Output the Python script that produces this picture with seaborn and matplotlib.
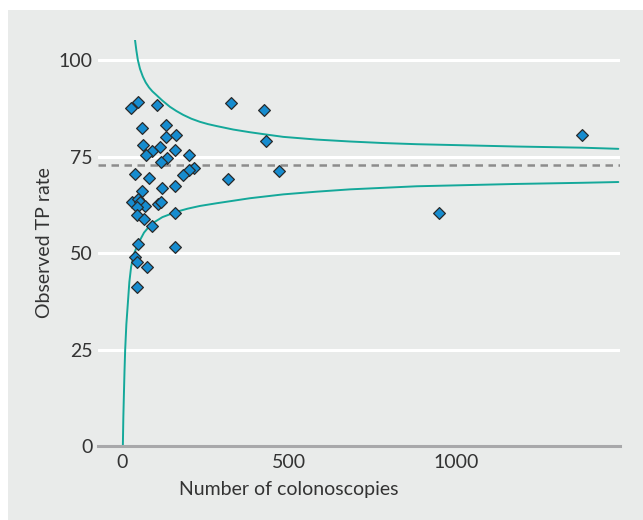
import matplotlib
matplotlib.use("Agg")
import matplotlib.pyplot as plt
import seaborn as sns
from matplotlib.patches import Rectangle

# number of colonoscopies per endoscopist and observed TP rate (%)
n_colonoscopies = [25, 47, 103, 58, 131, 130, 160, 62, 112, 159, 88, 70, 200, 135, 115,
                   216, 201, 182, 38, 80, 119, 158, 60, 29, 48, 53, 68, 44, 106, 116,
                   158, 43, 65, 88, 47, 159, 38, 44, 73, 43,
                   325, 425, 430, 316, 470, 1378, 950]
tp_rate = [87.5, 89.2, 88.3, 82.5, 83.3, 80.1, 80.5, 77.9, 77.5, 76.6, 76.5, 75.5, 75.4, 74.7, 73.7,
           72.1, 71.6, 70.2, 70.4, 69.4, 66.8, 67.4, 66.1, 63.1, 64.1, 63.3, 62.3, 61.8, 62.7, 63.1,
           60.3, 59.8, 58.7, 57.0, 52.3, 51.6, 48.9, 47.7, 46.3, 41.3,
           88.9, 87.0, 79.1, 69.1, 71.2, 80.6, 60.3]
mean_rate = 72.7

# funnel limits
upper_n = [38, 42, 46.5, 53, 61.5, 70, 80, 90, 102.6, 120, 142.5, 162, 182.4, 207, 232.5, 257, 282.6,
           332.4, 382.5, 432, 482.4, 582.6, 682.5, 782.4, 882.6, 982.5, 1180, 1378, 1487]
upper_limit = [105.2, 102.5, 100.0, 97.7, 95.7, 94.2, 92.9, 91.9, 90.9, 89.5, 87.9, 86.8, 85.8, 84.8,
               84.0, 83.4, 82.9, 82.0, 81.3, 80.7, 80.1, 79.4, 78.9, 78.5, 78.2, 78.0, 77.6, 77.3, 77.0]
lower_n = [1.5, 3, 4.5, 6.5, 8.5, 12, 16.5, 21, 26.4, 35, 46.5, 65, 86.4, 120, 162.6, 196, 232.5,
           282.6, 382.5, 482.4, 582.6, 682.5, 782.4, 882.6, 982.5, 1180, 1378, 1487]
lower_limit = [0.0, 7.5, 12.8, 19.5, 25.0, 31.5, 37.0, 42.5, 46.5, 49.8, 52.3, 55.3, 57.5, 59.3, 60.7,
               61.5, 62.2, 62.9, 64.2, 65.2, 65.9, 66.5, 66.9, 67.3, 67.5, 67.9, 68.2, 68.4]

x_ticks = [0, 500, 1000]
y_ticks = [0, 25, 50, 75, 100]

BG = '#e9ebea'
TEXT = '#333333'
TEAL = '#14a89a'
BLUE = '#168ccf'

sns.set_theme(style='white')
plt.rcParams['font.family'] = ['Lato', 'DejaVu Sans']

fig = plt.figure(figsize=(6.43, 5.2), dpi=100)
fig.patch.set_facecolor(BG)
# white margin on the left and top
fig.patches.append(Rectangle((0, 0), 8 / 643, 1, transform=fig.transFigure,
                             facecolor='white', edgecolor='none'))
fig.patches.append(Rectangle((0, 1 - 10 / 520), 1, 10 / 520, transform=fig.transFigure,
                             facecolor='white', edgecolor='none'))
ax = fig.add_axes([98 / 643, (520 - 446) / 520, 522 / 643, 406 / 520])
ax.set_facecolor(BG)

for y in y_ticks[1:]:
    ax.axhline(y, color='white', lw=2.2, zorder=1)
ax.axhline(mean_rate, color='#8c8c8c', lw=1.8, ls=(0, (3, 2.2)), zorder=2)

sns.lineplot(x=upper_n, y=upper_limit, sort=False, estimator=None, color=TEAL, lw=1.4, ax=ax, zorder=3)
sns.lineplot(x=lower_n, y=lower_limit, sort=False, estimator=None, color=TEAL, lw=1.4, ax=ax, zorder=3)
sns.scatterplot(x=n_colonoscopies, y=tp_rate, marker='D', s=36, color=BLUE,
                edgecolor='#2a2a2a', linewidth=0.9, ax=ax, zorder=4)

ax.set_xlim(-73, 1492)
ax.set_ylim(0, 105.2)
ax.set_xticks(x_ticks)
ax.set_yticks(y_ticks)
ax.tick_params(axis='both', length=0, labelsize=14, labelcolor=TEXT)
ax.tick_params(axis='x', pad=6)
ax.tick_params(axis='y', pad=4)
for side in ['top', 'right', 'left']:
    ax.spines[side].set_visible(False)
ax.spines['bottom'].set_color('#a8a8aa')
ax.spines['bottom'].set_linewidth(2.2)
ax.spines['bottom'].set_zorder(5)

ax.set_xlabel('Number of colonoscopies', fontsize=14, color=TEXT)
ax.xaxis.set_label_coords((289 - 98) / 522, -0.085)
ax.set_ylabel('Observed TP rate', fontsize=14, color=TEXT)
ax.yaxis.set_label_coords(-0.086, 0.5)

fig.savefig('out.png', dpi=100, facecolor=BG)
